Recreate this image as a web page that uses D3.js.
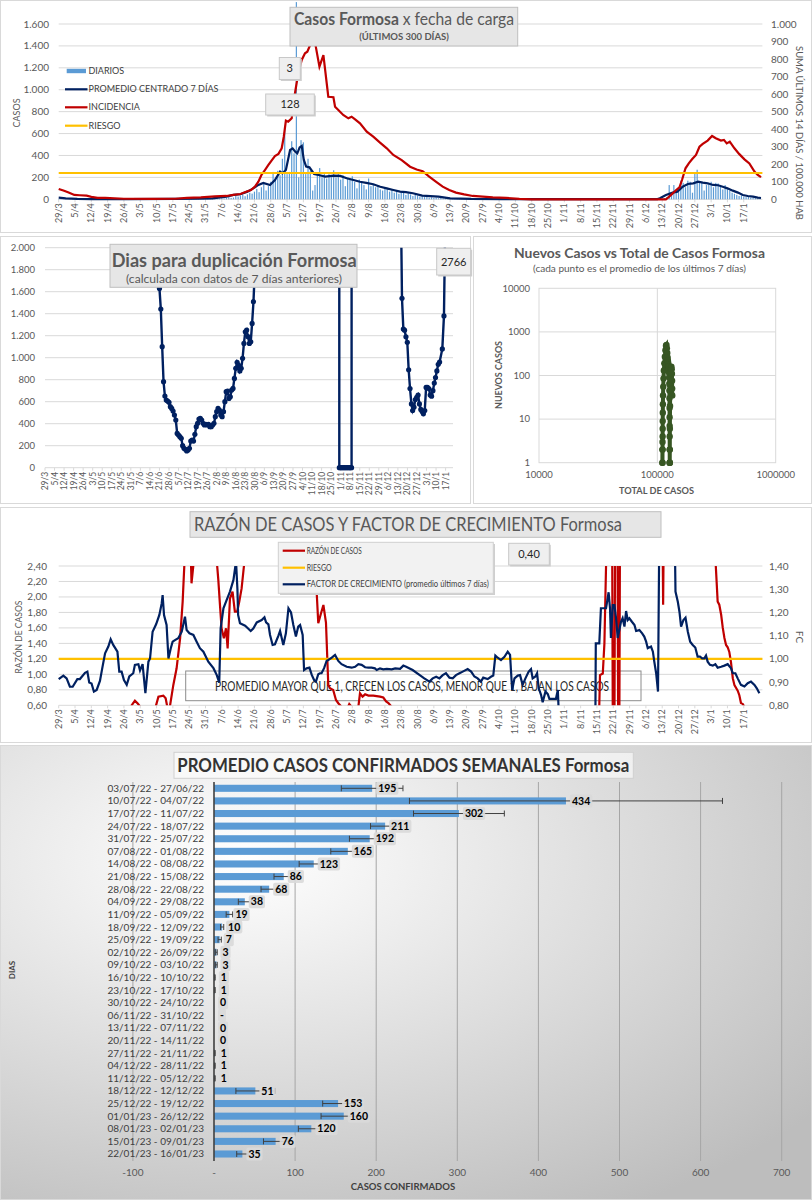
<!DOCTYPE html>
<html>
<head>
<meta charset="utf-8">
<script src="https://cdn.jsdelivr.net/npm/d3@7"></script>
<style>
  body { margin: 0; background: #fff; }
  svg { display: block; }
  text { font-family: Lato, "Open Sans", sans-serif; }
</style>
</head>
<body>
<svg id="chart" width="812" height="1200"></svg>
<script>
// ---------- data ----------
// weekly tick labels (every 7 days starting 29/3/2022, day index = i*7)
var etiquetasFecha = ["29/3","5/4","12/4","19/4","26/4","3/5","10/5","17/5","24/5","31/5","7/6","14/6","21/6","28/6","5/7","12/7","19/7","26/7","2/8","9/8","16/8","23/8","30/8","6/9","13/9","20/9","27/9","4/10","11/10","18/10","25/10","1/11","8/11","15/11","22/11","29/11","6/12","13/12","20/12","27/12","3/1","10/1","17/1"];

// daily cases (day 0 = 29/3/2022)
var diarios = [
  3,2,1,2,0,1,2,1,0,3,1,0,2,1,
  1,0,2,1,0,0,1,2,0,1,0,0,1,0,
  0,1,0,0,2,1,0,1,0,0,1,2,0,1,
  1,3,2,4,1,0,2,1,3,2,0,5,4,2,
  3,6,2,4,5,3,8,6,4,3,7,5,9,6,
  10,8,14,20,12,16,30,25,34,40,28,45,60,52,
  70,95,65,110,150,80,120,160,250,180,260,220,370,660,
  230,250,530,420,1800,200,540,520,230,370,260,80,130,240,
  285,200,240,190,230,210,265,200,230,180,220,120,200,190,
  210,160,100,180,150,130,90,190,120,140,110,130,90,80,
  110,100,70,90,60,80,50,70,60,40,55,45,30,40,
  35,25,30,20,25,15,18,12,15,10,12,8,10,7,
  8,6,7,5,6,4,5,3,4,3,2,3,2,2,
  3,2,2,1,2,1,2,1,1,0,1,1,0,1,
  1,0,1,0,0,1,0,0,1,0,0,0,1,0,
  0,0,0,0,0,0,0,0,0,0,0,0,0,0,
  0,0,0,0,0,0,0,0,0,0,0,0,0,0,
  1,0,0,1,0,1,0,0,1,0,1,0,0,1,
  0,1,0,1,0,2,0,5,10,20,130,40,130,60,
  90,170,150,110,170,160,60,240,270,150,150,80,130,150,
  160,110,150,145,115,90,130,100,80,60,50,40,30,35,
  25,20,25,15,12,10,8,5
];

// [day, value]
var promedio7 = [[0,15],[3,9],[8,4],[14,2],[30,2],[50,3],[60,5],[66,9],[72,24],[75,40],[78,46],[81,70],[83.5,100],[85.7,131],[87.8,150],[90.7,131],[92.8,176],[95,252],[96,237],[97.5,267],[99.3,450],[100.4,465],[101.5,435],[102.4,420],[103.4,474],[104.3,487],[105.2,359],[106.2,298],[107.6,292],[109.6,231],[111.5,222],[114.4,207],[117.9,216],[120.8,213],[123.6,192],[126.5,176],[129.3,160],[132,150],[135,137],[138,115],[140.8,100],[143.6,85],[146.5,70],[149,66],[152,55],[156,34],[163,24],[168,9],[177,3],[190,2],[257,2],[258,9],[260.6,39],[263.5,61],[265.5,70],[267.8,115],[270,140],[272.3,146],[274.4,161],[276.4,152],[278.5,146],[280.8,131],[283,128],[285,115],[287,100],[289.3,79],[291.5,61],[293.6,39],[295.7,30],[298,24],[300,15],[301.4,12]];

var incidencia = [[0,59],[2,50],[4,40],[6.7,25],[9,23],[12,21],[14,14],[16.7,8],[20,8],[28,3],[40,2],[50,3],[55,8],[61,11],[67,17],[72,19],[75,25],[78,30],[80.7,44],[82.5,53],[84.2,72],[85.7,101],[87,139],[88.5,167],[90,196],[91.5,224],[92.8,247],[94.3,259],[95.7,291],[96.6,357],[97.5,449],[98.5,443],[100,462],[100.7,548],[102.8,719],[104.3,795],[105.7,833],[106.7,842],[107.9,880],[110,895],[111.9,757],[113.6,823],[114.7,699],[115.7,585],[117.9,582],[118.6,528],[120,509],[122.1,481],[124.3,462],[125.7,471],[127.2,456],[129.3,433],[132.2,386],[135,357],[137.9,323],[140.8,291],[143.6,253],[147.2,224],[150.8,186],[153.6,170],[156.2,160],[159,129],[162,100],[164.8,72],[167.6,53],[170.5,38],[174,28],[177.7,19],[182,15],[186.3,11],[192,8],[197.7,2],[203,0],[260.6,0],[262,15],[263.5,34],[265,53],[266.4,68],[267.5,110],[269,177],[270.4,205],[271.8,228],[273.5,253],[275,300],[276.4,316],[278.5,335],[280.4,361],[282,348],[284.2,335],[285.5,339],[286.7,319],[288,329],[290,291],[292,259],[294.3,228],[296.4,205],[298.6,158],[300,139],[301.4,126]];

var riesgoIncidencia = 150;

// days for doubling; null = break, values above 2000 leave the plot
var duplicacion = [[83,2600],[84,1630],[85,1442],[86,1100],[87,782],[88,651],[89,615],[90,606],[91,594],[92,555],[93,539],[94,515],[95,479],[96,433],[97,312],[98,297],[99,282],[100,267],[101,200],[102,176],[103,167],[104,152],[105,161],[106,176],[107,242],[108,252],[109,242],[110,303],[111,373],[112,403],[113,442],[114,448],[115,433],[116,403],[117,388],[118,394],[119,388],[120,394],[121,373],[122,373],[123,388],[124,403],[125,464],[126,509],[127,539],[128,524],[129,479],[130,464],[131,509],[132,600],[133,691],[134,697],[135,630],[136,645],[137,706],[138,721],[139,812],[140,903],[141,958],[142,933],[143,879],[144,903],[145,994],[146,1130],[147,1236],[148,1252],[149,1191],[150,1130],[151,1145],[152,1312],[153,1509],[154,1800],[155,2600],
  null,
  [215.9,9000],[216,0],[217,0],[218,0],[219,0],[220,0],[221,0],[222,0],[223,0],[224,0],[225,0],[225.1,9000],
  null,
  [261,2600],[262,1540],[263,1260],[263.9,1250],[264.9,1190],[265.9,1140],[266.9,890],[267.9,720],[268.9,580],[269.8,520],[270.8,550],[271.8,620],[272.8,640],[273.8,660],[274.8,580],[275.8,530],[276.8,510],[277.7,490],[278.7,520],[279.7,730],[280.7,730],[281.7,720],[282.7,660],[283.7,650],[284.7,700],[285.7,770],[286.6,820],[287.6,880],[288.6,940],[289.6,960],[291.6,1080],[292.8,1380],[294.3,2766]];

// scatter: total cases vs new cases (7-day averages)
var totalCasos = [110300,110400,110500,110600,110700,110800,110900,111000,111200,111400,111700,112100,112700,113500,114500,115700,117000,118300,119400,120400,121300,122100,122800,123400,124000,124500,125000,125400,125800,126100,126400,126600,126800,126950,127050,127100,127150,127200,127250,127300,127400,127600,128000,128700,129600,130500,131400,132200,132800,133200,133500,133700];
var nuevosCasos = [1,2,1,3,2,4,6,9,14,22,35,55,85,130,190,270,380,480,500,420,330,260,220,200,180,160,140,115,90,65,45,30,18,11,7,4,2,1,1,1,2,6,20,60,120,150,160,140,110,76,50,35];

// factor de crecimiento (right axis) [day, value]
var factorCrecimiento = [[0,0.913],[2,0.928],[3.4,0.916],[4.8,0.88],[6,0.88],[8,0.913],[9.1,0.913],[11.3,0.94],[12.3,0.945],[13.1,0.898],[14.1,0.894],[15.1,0.859],[16.3,0.866],[17.7,0.905],[18.7,0.96],[19.9,1.024],[21.3,1.053],[22.3,1.084],[23.4,1.06],[25.2,1.031],[26,0.945],[27,0.945],[28,0.909],[29.2,0.888],[30.3,0.924],[32,0.938],[32.7,0.974],[34.2,0.977],[34.9,0.95],[36,0.977],[37.2,0.852],[38.5,0.988],[39.2,1.002],[40.3,1.117],[41.8,1.149],[43.2,1.189],[44.2,1.239],[44.6,1.275],[45.2,1.189],[46.3,1.146],[47.1,1.002],[48.1,1.046],[48.9,1.074],[49.9,1.081],[51.3,1.089],[52.8,1.117],[54.2,1.182],[54.9,1.124],[56.1,1.11],[57.8,1.103],[59.2,1.074],[60.6,1.046],[62.1,1.031],[64.2,0.988],[66.4,0.96],[67.8,0.931],[68.9,0.898],[69.5,1.131],[70.7,1.218],[72.1,1.254],[73.5,1.29],[75,1.34],[76.1,1.42],[76.7,1.3],[77,1.189],[77.8,1.153],[80,1.143],[81.4,1.13],[82.4,1.12],[83.5,1.131],[85,1.157],[87.1,1.167],[88.3,1.179],[89,1.157],[90,1.149],[90.7,1.103],[91.8,1.06],[92.8,1.063],[94.3,1.1],[95,1.12],[96.4,1.06],[97.5,1.11],[98.6,1.218],[99.7,1.2],[100.7,1.146],[101.8,1.096],[102.8,1.139],[103.6,1.146],[104.7,1.103],[105.3,0.952],[106.4,0.959],[107.6,0.962],[108.6,0.931],[109.6,0.909],[110.4,0.902],[111.4,0.934],[112.1,0.938],[112.8,0.938],[113.9,0.96],[115,0.992],[115.7,0.995],[117.2,1.005],[118.6,1.017],[120,0.991],[121.4,0.977],[123.6,0.966],[125.7,0.962],[127.2,0.966],[128.6,0.977],[130,0.974],[131.5,0.964],[132.9,0.962],[134.3,0.962],[135.7,0.959],[136.5,0.952],[137.9,0.959],[139.3,0.955],[140.8,0.957],[142.9,0.955],[144.4,0.959],[146.5,0.957],[147.9,0.971],[149.1,0.966],[151.9,0.952],[154.8,0.931],[156.9,0.916],[159.1,0.902],[160.5,0.916],[162,0.923],[163.4,0.916],[164.8,0.93],[166.2,0.938],[167.7,0.919],[169.1,0.916],[170.5,0.93],[172,0.938],[173.4,0.945],[175.5,0.956],[177,0.945],[178.4,0.924],[179.8,0.916],[181.2,0.902],[182.2,0.919],[184.1,0.913],[185.5,0.923],[186.5,0.928],[187.4,1.014],[188.4,1.005],[189.8,0.995],[191.3,1.009],[192.7,1.031],[193.7,1.017],[194.6,0.866],[195.6,0.916],[197,0.928],[198,0.93],[199.1,0.888],[200.3,0.916],[201.7,0.945],[202.7,0.956],[203.4,0.916],[204.6,0.924],[205.3,0.938],[206,0.873],[207,0.845],[207.7,0.813],[208.9,0.859],[209.9,0.848],[210.6,0.828],[212,0.828],[213.4,0.828],[214.2,0.866],[214.9,0.7],[230.3,0.7],[230.5,1.067],[232,1.067],[232.7,1.218],[234.9,1.218],[236,1.287],[236.6,1.218],[237,1.09],[237.8,1.232],[238.5,1.232],[239.2,1.175],[239.9,1.09],[240.6,1.124],[241.3,1.16],[242,1.175],[242.8,1.139],[243.5,1.206],[244.2,1.167],[244.9,1.175],[246,1.16],[247.1,1.146],[247.8,1.12],[249.2,1.124],[250.4,1.11],[251.3,1.096],[252.1,1.074],[252.8,1.046],[254.2,1.053],[255,1.031],[255.6,0.988],[256.4,0.938],[257.2,0.859],[257.8,1.6],[264.3,1.6],[264.7,1.29],[265.7,1.246],[266.4,1.203],[267.1,1.139],[268.1,1.167],[269,1.177],[270,1.117],[271,1.074],[272.1,1.06],[273.2,1.049],[274.2,1.01],[275.2,1.01],[276.1,1.002],[277.1,1.002],[277.8,1.014],[278.5,0.988],[279.5,0.974],[280.7,0.971],[281.8,0.977],[282.8,0.962],[284.3,0.966],[285.7,0.971],[287.1,0.977],[288.5,0.96],[289.3,0.938],[290.4,0.938],[291.4,0.916],[292.8,0.888],[294.3,0.881],[295.7,0.895],[297.1,0.902],[298.6,0.888],[299.6,0.873],[300.7,0.852]];

// razón de casos (left axis) [day, value], off-plot values are clipped
var razonCasos = [[0,0.3],[30.5,0.3],[31.3,0.6],[32.7,0.66],[34,0.62],[35,0.58],[36,0.3],[41,0.3],[41.8,0.6],[42.8,0.712],[44.9,0.725],[45.9,0.69],[46.8,0.55],[47.3,0.45],[47.8,0.6],[49.2,0.863],[50.6,1.078],[52.1,1.466],[53.2,1.94],[53.9,2.4],[55,3],[56.3,3],[57,2.176],[58.1,2.5],[59,3],[66.4,3],[68.5,2.22],[69.2,1.9],[69.9,1.595],[70.9,1.466],[71.8,1.595],[72.5,1.336],[73.5,1.98],[74.6,2.07],[75.6,1.81],[76.6,1.81],[77.5,1.94],[78.5,2.11],[79.5,2.4],[81,3],[109.5,3],[110.7,2.07],[111.4,1.66],[112.4,1.77],[113.6,1.896],[114.7,1.67],[115.7,0.863],[116.4,0.82],[117.8,0.798],[119,0.669],[120,0.627],[121.4,0.58],[123,0.5],[124.7,0.617],[125.7,0.58],[127,0.4],[128.6,0.58],[129.3,0.755],[130.4,0.712],[131.5,0.742],[132.9,0.725],[135,0.725],[137.9,0.712],[139.3,0.7],[140.5,0.65],[141.5,0.63],[142.9,0.58],[145,0.3],[231.3,0.3],[232,0.6],[232.3,0.99],[233.5,1.01],[234.2,1.4],[234.9,2.4],[235.5,3],[237.5,3],[237.8,0.3],[238.5,0.3],[238.8,3],[239.8,3],[240.1,0.3],[240.6,0.3],[240.9,3],[259.1,3],[259.4,1.9],[259.7,3],[281.5,3],[282,2.4],[282.8,1.94],[283.5,1.9],[284.3,1.77],[285,1.6],[285.7,1.47],[286.4,1.38],[287.1,1.35],[287.8,1.29],[288.5,1.16],[289.3,0.95],[290,0.86],[291.4,0.79],[292.1,0.73],[292.8,0.63],[293.5,0.62],[294.3,0.58],[296,0.3],[301,0.3]];

var riesgoFactor = 1.0;

// weekly averages
var semanas = ["03/07/22 - 27/06/22","10/07/22 - 04/07/22","17/07/22 - 11/07/22","24/07/22 - 18/07/22","31/07/22 - 25/07/22","07/08/22 - 01/08/22","14/08/22 - 08/08/22","21/08/22 - 15/08/22","28/08/22 - 22/08/22","04/09/22 - 29/08/22","11/09/22 - 05/09/22","18/09/22 - 12/09/22","25/09/22 - 19/09/22","02/10/22 - 26/09/22","09/10/22 - 03/10/22","16/10/22 - 10/10/22","23/10/22 - 17/10/22","30/10/22 - 24/10/22","06/11/22 - 31/10/22","13/11/22 - 07/11/22","20/11/22 - 14/11/22","27/11/22 - 21/11/22","04/12/22 - 28/11/22","11/12/22 - 05/12/22","18/12/22 - 12/12/22","25/12/22 - 19/12/22","01/01/23 - 26/12/22","08/01/23 - 02/01/23","15/01/23 - 09/01/23","22/01/23 - 16/01/23"];
var promedioSemanal = [195,434,302,211,192,165,123,86,68,38,19,10,7,3,3,1,1,0,null,0,0,1,1,1,51,153,160,120,76,35];
var errorSemanal = [38,193,56,18,25,21,18,12,10,8,4,2,2,1,1,0.5,0.5,0,null,0,0,0.5,0.5,0.5,24,19,28,16,15,7];
var ticksSemanal = [-100,0,100,200,300,400,500,600,700];
var etiquetasSemanal = ["-100","-","100","200","300","400","500","600","700"];

// ---------- helpers ----------
var ES = d3.formatLocale({decimal: ",", thousands: ".", grouping: [3], currency: ["$", ""]});
var miles = ES.format(",");
var dec2 = ES.format(".2f");
var GRIS = "#595959", GRID = "#d9d9d9", AZUL = "#002060", ROJO = "#c00000", NARANJA = "#ffc000", CELESTE = "#5b9bd5";

var svg = d3.select("#chart");
var defs = svg.append("defs");

function frame(x, y, w, h) {
  svg.append("rect").attr("x", x + 0.5).attr("y", y + 0.5).attr("width", w - 1).attr("height", h - 1)
    .attr("fill", "#fff").attr("stroke", GRID);
}
function clip(id, x, y, w, h) {
  defs.append("clipPath").attr("id", id).append("rect").attr("x", x).attr("y", y).attr("width", w).attr("height", h);
  return "url(#" + id + ")";
}
function labelBox(g, x, y, w, h, s, size) {
  g.append("rect").attr("x", x + 1.5).attr("y", y + 1.5).attr("width", w).attr("height", h).attr("fill", "#cfcfcf");
  g.append("rect").attr("x", x).attr("y", y).attr("width", w).attr("height", h).attr("fill", "#efefef").attr("stroke", "#c8c8c8");
  g.append("text").attr("x", x + w / 2).attr("y", y + h / 2).attr("dy", "0.35em").attr("text-anchor", "middle")
    .style("font-size", size + "px").attr("fill", "#262626").text(s);
}
function dateLabels(g, x, y0, size) {
  var t = g.selectAll(null).data(etiquetasFecha).enter();
  t.append("line").attr("x1", function(d, i) { return x(i * 7); }).attr("x2", function(d, i) { return x(i * 7); })
    .attr("y1", y0).attr("y2", y0 + 3).attr("stroke", GRID);
  t.append("text")
    .attr("transform", function(d, i) { return "translate(" + (x(i * 7) + 3) + "," + (y0 + 4) + ") rotate(-90)"; })
    .attr("text-anchor", "end").style("font-size", size + "px").attr("fill", GRIS).text(function(d) { return d; });
}

// ---------- panel 1: casos por fecha de carga ----------
frame(0, 0, 812, 233);
var g1 = svg.append("g");
var x1 = d3.scaleLinear().domain([0, 302]).range([58.7, 762.4]);
var y1 = d3.scaleLinear().domain([0, 1600]).range([199.3, 24]);
var y1r = d3.scaleLinear().domain([0, 1000]).range([199.3, 24]);

g1.selectAll(null).data(y1.ticks(8)).enter().append("line")
  .attr("x1", 58.7).attr("x2", 762.4).attr("y1", y1).attr("y2", y1).attr("stroke", GRID);
g1.selectAll(null).data(y1.ticks(8)).enter().append("text")
  .attr("x", 49).attr("y", y1).attr("dy", "0.35em").attr("text-anchor", "end")
  .style("font-size", "10px").attr("fill", GRIS).text(miles);
g1.selectAll(null).data(y1r.ticks(10)).enter().append("text")
  .attr("x", 771).attr("y", y1r).attr("dy", "0.35em")
  .style("font-size", "10px").attr("fill", GRIS).text(miles);
dateLabels(g1, x1, 199.3, 9);

g1.selectAll(null).data(diarios).enter().append("rect")
  .attr("x", function(d, i) { return x1(i) - 0.6; }).attr("width", 1.2)
  .attr("y", function(d) { return y1(d); }).attr("height", function(d) { return y1(0) - y1(d); })
  .attr("fill", CELESTE);

g1.append("path").datum(promedio7).attr("fill", "none").attr("stroke", AZUL).attr("stroke-width", 2.2)
  .attr("d", d3.line().x(function(d) { return x1(d[0]); }).y(function(d) { return y1(d[1]); }));
g1.append("path").datum(incidencia).attr("fill", "none").attr("stroke", ROJO).attr("stroke-width", 2.2)
  .attr("d", d3.line().x(function(d) { return x1(d[0]); }).y(function(d) { return y1r(d[1]); }));
g1.append("line").attr("x1", 58.7).attr("x2", 762.4).attr("y1", y1r(riesgoIncidencia)).attr("y2", y1r(riesgoIncidencia))
  .attr("stroke", NARANJA).attr("stroke-width", 2.2);

// legend
var leg1 = [["DIARIOS", CELESTE, 71], ["PROMEDIO CENTRADO 7 DÍAS", AZUL, 89.3], ["INCIDENCIA", ROJO, 107.3], ["RIESGO", NARANJA, 125.7]];
leg1.forEach(function(l, i) {
  if (i === 0) g1.append("rect").attr("x", 66.7).attr("y", l[2] - 2.2).attr("width", 19.3).attr("height", 4.4).attr("fill", l[1]);
  else g1.append("line").attr("x1", 65).attr("x2", 87.5).attr("y1", l[2]).attr("y2", l[2]).attr("stroke", l[1]).attr("stroke-width", 2.2);
  g1.append("text").attr("x", 88.5).attr("y", l[2]).attr("dy", "0.35em").style("font-size", "9px").attr("fill", "#404040").text(l[0]);
});

g1.append("text").attr("transform", "translate(20,113) rotate(-90)").attr("text-anchor", "middle")
  .style("font-size", "9px").attr("fill", GRIS).text("CASOS");
g1.append("text").attr("transform", "translate(796,133) rotate(90)").attr("text-anchor", "middle")
  .attr("textLength", 174).attr("lengthAdjust", "spacingAndGlyphs")
  .style("font-size", "10px").attr("fill", GRIS).text("SUMA  ÚLTIMOS 14 DÍAS / 100.000 HAB");

// title
g1.append("rect").attr("x", 290).attr("y", 7.3).attr("width", 227.7).attr("height", 38.7).attr("fill", "#e6e6e6").attr("stroke", "#bfbfbf");
var t1 = g1.append("text").attr("x", 294).attr("y", 25).attr("textLength", 220).attr("lengthAdjust", "spacingAndGlyphs")
  .style("font-size", "16.5px").attr("fill", GRIS);
t1.append("tspan").style("font-weight", "bold").text("Casos  Formosa ");
t1.append("tspan").text(" x  fecha  de  carga");
g1.append("text").attr("x", 404).attr("y", 40).attr("text-anchor", "middle").style("font-size", "9.5px")
  .style("font-weight", "bold").attr("fill", GRIS).text("(ÚLTIMOS 300 DÍAS)");
labelBox(g1, 279.3, 57.5, 21, 22, "3", 11);
labelBox(g1, 265.7, 94, 48.6, 21, "128", 11);

// ---------- panel 2: dias para duplicacion ----------
frame(0, 236, 471, 268);
var g2 = svg.append("g");
var x2 = d3.scaleLinear().domain([0, 294.3]).range([45, 446]);
var y2 = d3.scaleLinear().domain([0, 2000]).range([467.7, 247.7]);
g2.selectAll(null).data(y2.ticks(10)).enter().append("line")
  .attr("x1", 45).attr("x2", 453).attr("y1", y2).attr("y2", y2).attr("stroke", GRID);
g2.selectAll(null).data(y2.ticks(10)).enter().append("text")
  .attr("x", 35).attr("y", y2).attr("dy", "0.35em").attr("text-anchor", "end")
  .style("font-size", "9.5px").attr("fill", GRIS).text(miles);
dateLabels(g2, x2, 467.7, 8.5);
var cp2 = g2.append("g").attr("clip-path", clip("c2", 40, 247.7, 420, 226));
cp2.append("path").datum(duplicacion).attr("fill", "none").attr("stroke", AZUL).attr("stroke-width", 2.4)
  .attr("d", d3.line().defined(function(d) { return d !== null; })
    .x(function(d) { return x2(d[0]); }).y(function(d) { return y2(d[1]); }));
cp2.selectAll(null).data(duplicacion.filter(function(d) { return d !== null; })).enter().append("circle")
  .attr("cx", function(d) { return x2(d[0]); }).attr("cy", function(d) { return y2(d[1]); })
  .attr("r", 2.6).attr("fill", AZUL);
g2.append("rect").attr("x", 110).attr("y", 244.3).attr("width", 247).attr("height", 43).attr("fill", "#e6e6e6").attr("stroke", "#bfbfbf");
g2.append("text").attr("x", 111.7).attr("y", 266.7).attr("textLength", 245).attr("lengthAdjust", "spacingAndGlyphs")
  .style("font-size", "19px").style("font-weight", "bold").attr("fill", GRIS).text("Dias para duplicación Formosa");
g2.append("text").attr("x", 126).attr("y", 283.3).attr("textLength", 216).attr("lengthAdjust", "spacingAndGlyphs")
  .style("font-size", "12px").attr("fill", GRIS).text("(calculada con datos de 7 días anteriores)");
labelBox(g2, 436.7, 248.3, 34, 26.7, "2766", 11);

// ---------- panel 3: scatter ----------
frame(473, 236, 339, 268);
var g3 = svg.append("g");
var xs = d3.scaleLog().domain([1e4, 1e6]).range([539, 775.7]);
var ys = d3.scaleLog().domain([1, 1e4]).range([462.7, 288.3]);
g3.selectAll(null).data([10, 100, 1000]).enter().append("line")
  .attr("x1", 539).attr("x2", 775.7).attr("y1", ys).attr("y2", ys).attr("stroke", GRID);
g3.append("line").attr("x1", xs(1e5)).attr("x2", xs(1e5)).attr("y1", 288.3).attr("y2", 462.7).attr("stroke", GRID);
g3.append("rect").attr("x", 539).attr("y", 288.3).attr("width", 236.7).attr("height", 174.4).attr("fill", "none").attr("stroke", GRID);
g3.selectAll(null).data([1, 10, 100, 1000, 10000]).enter().append("text")
  .attr("x", 530).attr("y", ys).attr("dy", "0.35em").attr("text-anchor", "end")
  .style("font-size", "9.5px").attr("fill", GRIS).text(function(d) { return d; });
g3.selectAll(null).data([1e4, 1e5, 1e6]).enter().append("text")
  .attr("x", xs).attr("y", 477.7).attr("text-anchor", "middle")
  .style("font-size", "9.5px").attr("fill", GRIS).text(function(d) { return d; });
var pares = totalCasos.map(function(t, i) { return [t, nuevosCasos[i]]; });
g3.append("path").datum(pares).attr("fill", "none").attr("stroke", "#375623").attr("stroke-width", 4)
  .attr("d", d3.line().x(function(d) { return xs(d[0]); }).y(function(d) { return ys(d[1]); }));
g3.selectAll(null).data(pares).enter().append("circle")
  .attr("cx", function(d) { return xs(d[0]); }).attr("cy", function(d) { return ys(d[1]); })
  .attr("r", 3.2).attr("fill", "#375623");
g3.append("text").attr("x", 639.5).attr("y", 257.7).attr("text-anchor", "middle").attr("textLength", 251).attr("lengthAdjust", "spacingAndGlyphs")
  .style("font-size", "14px").style("font-weight", "bold").attr("fill", GRIS).text("Nuevos Casos vs Total de Casos Formosa");
g3.append("text").attr("x", 639.5).attr("y", 271.7).attr("text-anchor", "middle").attr("textLength", 213).attr("lengthAdjust", "spacingAndGlyphs")
  .style("font-size", "9.5px").attr("fill", GRIS).text("(cada punto es el promedio de los últimos 7 días)");
g3.append("text").attr("transform", "translate(501.5,375) rotate(-90)").attr("text-anchor", "middle")
  .attr("textLength", 68).attr("lengthAdjust", "spacingAndGlyphs")
  .style("font-size", "9.5px").style("font-weight", "bold").attr("fill", GRIS).text("NUEVOS  CASOS");
g3.append("text").attr("x", 656.5).attr("y", 494.3).attr("text-anchor", "middle")
  .attr("textLength", 75).attr("lengthAdjust", "spacingAndGlyphs")
  .style("font-size", "9.5px").style("font-weight", "bold").attr("fill", GRIS).text("TOTAL DE CASOS");

// ---------- panel 4: razon de casos y factor de crecimiento ----------
frame(0, 507, 812, 236);
var g4 = svg.append("g");
var x4 = d3.scaleLinear().domain([0, 302]).range([58.7, 762.4]);
var y4 = d3.scaleLinear().domain([0.6, 2.4]).range([705.3, 566]);
var y4r = d3.scaleLinear().domain([0.8, 1.4]).range([705.3, 566]);
var grid4 = d3.range(0, 10).map(function(i) { return 0.6 + i * 0.2; });
g4.selectAll(null).data(grid4).enter().append("line")
  .attr("x1", 58.7).attr("x2", 762.4).attr("y1", y4).attr("y2", y4).attr("stroke", GRID);
g4.selectAll(null).data(grid4).enter().append("text")
  .attr("x", 47).attr("y", y4).attr("dy", "0.35em").attr("text-anchor", "end")
  .style("font-size", "10px").attr("fill", GRIS).text(dec2);
g4.selectAll(null).data(y4r.ticks(6)).enter().append("text")
  .attr("x", 769).attr("y", y4r).attr("dy", "0.35em")
  .style("font-size", "10px").attr("fill", GRIS).text(dec2);
dateLabels(g4, x4, 705.3, 9);

// info text box (behind lines)
g4.append("rect").attr("x", 185.7).attr("y", 671).attr("width", 455.3).attr("height", 29.7).attr("fill", "none").attr("stroke", "#8c8c8c");
g4.append("text").attr("x", 215).attr("y", 690.5).attr("textLength", 394).attr("lengthAdjust", "spacingAndGlyphs")
  .style("font-size", "12.5px").attr("fill", "#262626").text("PROMEDIO MAYOR QUE 1, CRECEN LOS CASOS, MENOR QUE 1, BAJAN LOS CASOS");

var cp4 = g4.append("g").attr("clip-path", clip("c4", 55, 566, 712, 139.3));
cp4.append("path").datum(razonCasos).attr("fill", "none").attr("stroke", ROJO).attr("stroke-width", 2.2)
  .attr("d", d3.line().x(function(d) { return x4(d[0]); }).y(function(d) { return y4(d[1]); }));
cp4.append("line").attr("x1", 58.7).attr("x2", 762.4).attr("y1", y4r(riesgoFactor)).attr("y2", y4r(riesgoFactor))
  .attr("stroke", NARANJA).attr("stroke-width", 2.2);
cp4.append("path").datum(factorCrecimiento).attr("fill", "none").attr("stroke", AZUL).attr("stroke-width", 2.2)
  .attr("d", d3.line().x(function(d) { return x4(d[0]); }).y(function(d) { return y4r(d[1]); }));

g4.append("text").attr("transform", "translate(21.5,637) rotate(-90)").attr("text-anchor", "middle")
  .attr("textLength", 73).attr("lengthAdjust", "spacingAndGlyphs")
  .style("font-size", "10px").attr("fill", GRIS).text("RAZÓN  DE CASOS");
g4.append("text").attr("transform", "translate(796,637) rotate(90)").attr("text-anchor", "middle")
  .style("font-size", "10px").attr("fill", GRIS).text("FC");

// title + legend
g4.append("rect").attr("x", 190).attr("y", 511.7).attr("width", 471).attr("height", 25.6).attr("fill", "#e6e6e6").attr("stroke", "#bfbfbf");
g4.append("text").attr("x", 194).attr("y", 531).attr("textLength", 428).attr("lengthAdjust", "spacingAndGlyphs")
  .style("font-size", "20px").attr("fill", GRIS).text("RAZÓN DE CASOS Y FACTOR DE CRECIMIENTO Formosa");
g4.append("rect").attr("x", 280).attr("y", 544).attr("width", 215).attr("height", 51).attr("fill", "#cfcfcf");
g4.append("rect").attr("x", 278.3).attr("y", 542.3).attr("width", 215).attr("height", 51).attr("fill", "#f2f2f2").attr("stroke", "#d0d0d0");
var leg4 = [["RAZÓN DE CASOS", ROJO, 550.7, 55], ["RIESGO", NARANJA, 567.7, 25], ["FACTOR DE CRECIMIENTO (promedio últimos 7 días)", AZUL, 584.3, 182]];
leg4.forEach(function(l) {
  g4.append("line").attr("x1", 282.7).attr("x2", 305).attr("y1", l[2]).attr("y2", l[2]).attr("stroke", l[1]).attr("stroke-width", 2.2);
  g4.append("text").attr("x", 306.7).attr("y", l[2]).attr("dy", "0.35em").attr("textLength", l[3]).attr("lengthAdjust", "spacingAndGlyphs")
    .style("font-size", "8.5px").attr("fill", "#404040").text(l[0]);
});
labelBox(g4, 508.7, 543.3, 40.6, 21.7, "0,40", 11);

// ---------- panel 5: promedio semanal ----------
var grad = defs.append("radialGradient").attr("id", "fondo").attr("cx", "30%").attr("cy", "25%").attr("r", "90%");
grad.append("stop").attr("offset", "0%").attr("stop-color", "#ffffff");
grad.append("stop").attr("offset", "100%").attr("stop-color", "#bdbdbd");
svg.append("rect").attr("x", 0.5).attr("y", 745.5).attr("width", 811).attr("height", 454).attr("fill", "url(#fondo)").attr("stroke", GRID);
var g5 = svg.append("g");
var xb = d3.scaleLinear().domain([-100, 700]).range([132.9, 781.7]);
var yb = d3.scaleBand().domain(semanas).range([782, 1160.3]).paddingInner(0.44).paddingOuter(0.22);

g5.selectAll(null).data(ticksSemanal.filter(function(d) { return d !== 0; })).enter().append("line")
  .attr("x1", xb).attr("x2", xb).attr("y1", 782).attr("y2", 1161).attr("stroke", "#a6a6a6");
g5.selectAll(null).data(ticksSemanal).enter().append("text")
  .attr("x", xb).attr("y", 1176).attr("text-anchor", "middle").style("font-size", "10px").attr("fill", GRIS)
  .text(function(d, i) { return etiquetasSemanal[i]; });

g5.selectAll(null).data(promedioSemanal).enter().append("rect")
  .attr("x", xb(0)).attr("y", function(d, i) { return yb(semanas[i]); })
  .attr("width", function(d) { return xb(d || 0) - xb(0); }).attr("height", yb.bandwidth())
  .attr("fill", CELESTE);

// error bars
promedioSemanal.forEach(function(v, i) {
  var e = errorSemanal[i];
  if (v === null || !e) return;
  var yc = yb(semanas[i]) + yb.bandwidth() / 2;
  g5.append("line").attr("x1", xb(v - e)).attr("x2", xb(v + e)).attr("y1", yc).attr("y2", yc).attr("stroke", "#404040").attr("stroke-width", 1);
  [v - e, v + e].forEach(function(c) {
    g5.append("line").attr("x1", xb(c)).attr("x2", xb(c)).attr("y1", yc - 3).attr("y2", yc + 3).attr("stroke", "#404040");
  });
});

g5.append("line").attr("x1", xb(0)).attr("x2", xb(0)).attr("y1", 782).attr("y2", 1161).attr("stroke", "#404040").attr("stroke-width", 1.6);

g5.selectAll(null).data(semanas).enter().append("text")
  .attr("x", 204).attr("y", function(d) { return yb(d) + yb.bandwidth() / 2; }).attr("dy", "0.35em")
  .attr("text-anchor", "end").style("font-size", "10px").attr("fill", "#404040").text(function(d) { return d; });

// data labels
promedioSemanal.forEach(function(v, i) {
  var yc = yb(semanas[i]) + yb.bandwidth() / 2;
  var x0 = xb(v || 0) + 4;
  var g = g5.append("g");
  var t = g.append("text").attr("x", x0 + 2).attr("y", yc).attr("dy", "0.35em")
    .style("font-size", "10.5px").style("font-weight", "bold").attr("fill", "#000")
    .text(v === null ? "-" : d3.format(".0f")(v));
  var w = t.node().getComputedTextLength();
  g.insert("rect", "text").attr("x", x0).attr("y", yc - 6.5).attr("width", w + 4).attr("height", 13).attr("rx", 2)
    .attr("fill", "#d9d9d9").attr("opacity", 0.9);
});

g5.append("rect").attr("x", 174).attr("y", 752.3).attr("width", 459.3).attr("height", 26).attr("fill", "#ffffff").attr("fill-opacity", 0.6).attr("stroke", "#d0d0d0");
g5.append("text").attr("x", 177.3).attr("y", 772.3).attr("textLength", 452).attr("lengthAdjust", "spacingAndGlyphs")
  .style("font-size", "18px").style("font-weight", "bold").attr("fill", "#333").text("PROMEDIO CASOS CONFIRMADOS SEMANALES Formosa");
g5.append("text").attr("x", 403).attr("y", 1190).attr("text-anchor", "middle").style("font-size", "9.5px")
  .style("font-weight", "bold").attr("fill", "#404040").text("CASOS CONFIRMADOS");
g5.append("text").attr("transform", "translate(15,970) rotate(-90)").attr("text-anchor", "middle")
  .style("font-size", "8px").style("font-weight", "bold").attr("fill", "#404040").text("DIAS");
</script>
</body>
</html>
